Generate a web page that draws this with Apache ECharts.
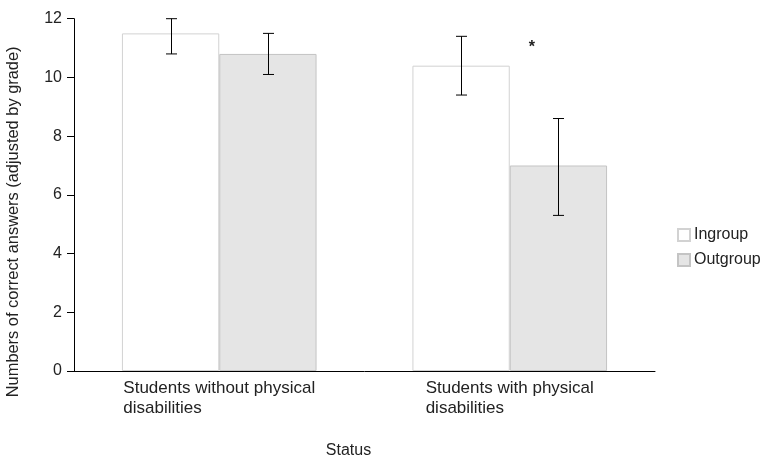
<!DOCTYPE html>
<html>
<head>
<meta charset="utf-8">
<script src="https://cdn.jsdelivr.net/npm/echarts@6/dist/echarts.min.js"></script>
<style>
html, body { margin: 0; padding: 0; background: #fff; }
#chart { width: 763px; height: 458px; }
</style>
</head>
<body>
<div id="chart"></div>
<script>
// data
const categories = ['Students without physical\ndisabilities', 'Students with physical\ndisabilities'];
const ingroup = [11.5, 10.4];
const outgroup = [10.8, 7.0];
const ingroupErr = [[10.8, 12.0], [9.4, 11.4]];
const outgroupErr = [[10.1, 11.5], [5.3, 8.6]];
const sigLabels = ['', '*'];
const sigValue = [0, 11.03];

const chart = echarts.init(document.getElementById('chart'));
const CAT_GAP = 0.33;

// error bar series: side -1 = ingroup (left bar), 1 = outgroup (right bar)
function errSeries(name, errs, side) {
    return {
        name: name,
        type: 'custom',
        silent: true,
        z: 5,
        data: errs.map((e, i) => [i, e[0], e[1]]),
        renderItem: function (params, api) {
            const i = api.value(0);
            const band = api.size([1, 0])[0];
            const bw = band * (1 - CAT_GAP) / 2;
            const lo = api.coord([i, api.value(1)]);
            const hi = api.coord([i, api.value(2)]);
            const x = Math.round(lo[0] + side * bw / 2) + 0.5;
            const cap = 5.5;
            const st = {stroke: '#000', lineWidth: 1};
            const children = [
                {type: 'line', shape: {x1: x, y1: lo[1], x2: x, y2: hi[1]}, style: st},
                {type: 'line', shape: {x1: x - cap, y1: lo[1], x2: x + cap, y2: lo[1]}, style: st},
                {type: 'line', shape: {x1: x - cap, y1: hi[1], x2: x + cap, y2: hi[1]}, style: st}
            ];
            if (side > 0 && sigLabels[i]) {
                const p = api.coord([i, sigValue[i]]);
                children.push({
                    type: 'text',
                    style: {
                        x: p[0] + 22, y: p[1], text: sigLabels[i],
                        fill: '#222', font: 'bold 16px "Liberation Sans", Arial, sans-serif',
                        align: 'center', verticalAlign: 'middle'
                    }
                });
            }
            return {type: 'group', children: children};
        }
    };
}

const option = {
    animation: false,
    textStyle: {fontFamily: '"Liberation Sans", Arial, sans-serif'},
    grid: {left: 74, right: 108, top: 18.7, bottom: 87, outerBoundsMode: 'none'},
    legend: {
        orient: 'vertical',
        left: 677,
        top: 227,
        padding: 0,
        icon: 'rect',
        itemWidth: 12,
        itemHeight: 12,
        itemGap: 9,
        data: ['Ingroup', 'Outgroup'],
        textStyle: {fontSize: 16, color: '#222', padding: [0, 0, 0, -1]}
    },
    xAxis: {
        type: 'category',
        data: categories,
        name: 'Status',
        nameLocation: 'middle',
        nameGap: 72,
        nameTextStyle: {fontSize: 16, color: '#222', padding: [0, 32, 0, 0]},
        axisLine: {lineStyle: {color: '#000', width: 1}},
        axisTick: {show: false},
        axisLabel: {
            interval: 0,
            margin: 7,
            formatter: v => v.split('\n').map(s => '{a|' + s + '}').join('\n'),
            rich: {a: {fontSize: 17, color: '#222', align: 'left', lineHeight: 20}}
        }
    },
    yAxis: {
        type: 'value',
        min: 0,
        max: 12,
        interval: 2,
        name: 'Numbers of correct answers (adjusted by grade)',
        nameLocation: 'middle',
        nameGap: 53,
        nameTextStyle: {fontSize: 16.4, color: '#222', padding: [0, 54, 0, 0]},
        axisLine: {show: true, lineStyle: {color: '#000', width: 1}},
        axisTick: {show: true, length: 7, lineStyle: {color: '#000'}},
        axisLabel: {fontSize: 16, color: '#222', margin: 12},
        splitLine: {show: false}
    },
    series: [
        {
            name: 'Ingroup',
            type: 'bar',
            data: ingroup,
            barGap: '0%',
            barCategoryGap: '33%',
            itemStyle: {color: '#ffffff', borderColor: '#d2d2d2', borderWidth: 1}
        },
        {
            name: 'Outgroup',
            type: 'bar',
            data: outgroup,
            barGap: '0%',
            barCategoryGap: '33%',
            itemStyle: {color: '#e5e5e5', borderColor: '#c4c4c4', borderWidth: 1}
        },
        errSeries('ingroupErr', ingroupErr, -1),
        errSeries('outgroupErr', outgroupErr, 1)
    ]
};

chart.setOption(option);
</script>
</body>
</html>
